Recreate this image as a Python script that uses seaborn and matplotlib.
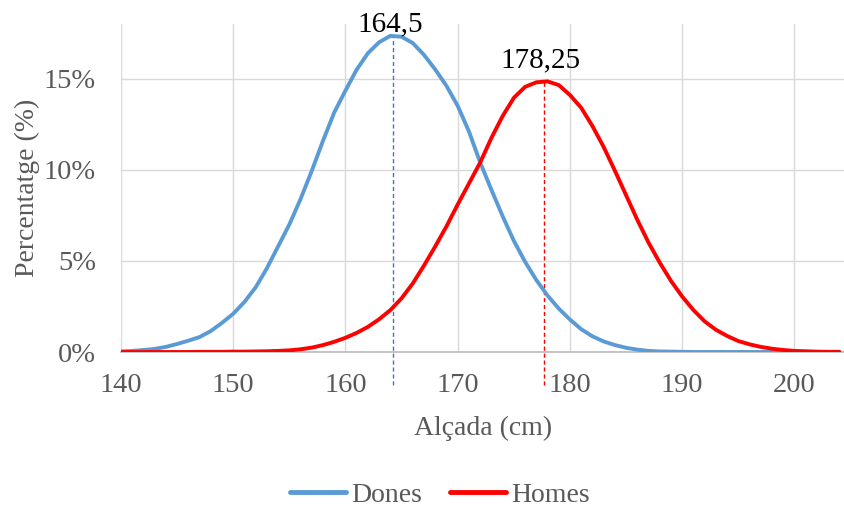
import numpy as np
import pandas as pd
import matplotlib
matplotlib.use("Agg")
import matplotlib.pyplot as plt
import seaborn as sns
from matplotlib.ticker import PercentFormatter, MultipleLocator

# ---- data (in %) ----
heights = list(range(140, 205))
dones = [0.03, 0.06, 0.11, 0.17, 0.28, 0.44, 0.62, 0.82, 1.15, 1.6,
         2.1, 2.75, 3.55, 4.6, 5.8, 7.0, 8.4, 9.95, 11.6, 13.15,
         14.35, 15.5, 16.4, 17.0, 17.35, 17.3, 16.95, 16.3, 15.5, 14.6,
         13.5, 12.1, 10.4, 8.9, 7.45, 6.1, 4.95, 3.95, 3.1, 2.38,
         1.78, 1.25, 0.86, 0.58, 0.38, 0.23, 0.13, 0.06, 0.03, 0.02,
         0.01, 0.0, 0.0, 0.0, 0.0, 0.0, 0.0, 0.0, 0.0, 0.0,
         0.0, 0.0, 0.0, 0.0, 0.0]
homes = [0.0, 0.0, 0.0, 0.0, 0.0, 0.0, 0.0, 0.01, 0.01, 0.01,
         0.02, 0.02, 0.03, 0.04, 0.06, 0.09, 0.15, 0.24, 0.38, 0.56,
         0.78, 1.05, 1.38, 1.8, 2.3, 2.95, 3.77, 4.75, 5.8, 6.9,
         8.1, 9.25, 10.4, 11.75, 12.95, 13.95, 14.55, 14.8, 14.85, 14.65,
         14.1, 13.4, 12.4, 11.25, 9.95, 8.6, 7.25, 6.0, 4.9, 3.9,
         3.04, 2.3, 1.68, 1.22, 0.88, 0.6, 0.42, 0.28, 0.18, 0.11,
         0.06, 0.04, 0.02, 0.01, 0.01]
series_names = ["Dones", "Homes"]
peak_x_pos = [164.25, 177.7]       # dashed marker positions as drawn
peak_y = [17.4, 14.85]
peak_labels = ["164,5", "178,25"]
label_x = [163.95, 177.4]
label_y = [17.58, 15.6]
colors = ["#5B9BD5", "#FF0000"]
dash_colors = ["#4472C4", "#FF0000"]

df = pd.DataFrame({
    "Alçada": heights * 2,
    "Percentatge": dones + homes,
    "Sèrie": [series_names[0]] * len(heights) + [series_names[1]] * len(heights),
})

sns.set_theme(style="white")
plt.rcParams["font.family"] = ["Liberation Serif", "DejaVu Serif"]

fig = plt.figure(figsize=(8.45, 5.08), dpi=100)
ax = fig.add_axes([121 / 845, 1 - 352 / 508, 1 - 121 / 845, (352 - 24) / 508])

sns.lineplot(data=df, x="Alçada", y="Percentatge", hue="Sèrie",
             palette=dict(zip(series_names, colors)), linewidth=2.8, ax=ax,
             legend=True, zorder=3)

ax.set_xlim(140, 204.5)
ax.set_ylim(0, 18)
ax.xaxis.set_major_locator(MultipleLocator(10))
ax.yaxis.set_major_locator(MultipleLocator(5))
ax.yaxis.set_major_formatter(PercentFormatter(100, decimals=0))

ax.grid(True, color="#d9d9d9", linewidth=1.0, zorder=0)
ax.set_axisbelow(True)
for s in ["top", "right", "left"]:
    ax.spines[s].set_visible(False)
ax.spines["bottom"].set_color("#bfbfbf")
ax.spines["bottom"].set_linewidth(1.3)
ax.tick_params(axis="x", length=0, labelsize=20.5, labelcolor="#595959", pad=15)
ax.tick_params(axis="y", length=0, labelsize=20.5, labelcolor="#595959", pad=18)

ax.set_xlabel("Alçada (cm)", fontsize=20, color="#595959", labelpad=13)
ax.set_ylabel("Percentatge (%)", fontsize=20, color="#595959", labelpad=3)

# dashed peak markers and labels
for xp, yp, c in zip(peak_x_pos, peak_y, dash_colors):
    ax.plot([xp, xp], [-1.8, yp], linestyle=(0, (3, 2)), color=c, linewidth=1.0,
            clip_on=False, zorder=2)
for lx, ly, lab in zip(label_x, label_y, peak_labels):
    ax.text(lx, ly, lab, ha="center", va="baseline", fontsize=21, color="black",
            clip_on=False, zorder=4)

handles, labels = ax.get_legend_handles_labels()
ax.get_legend().remove()
leg = fig.legend(handles, labels, loc="center", bbox_to_anchor=(440 / 845, 1 - 495 / 508),
                 ncol=2, frameon=False, fontsize=20, handlelength=2.0,
                 handletextpad=0.2, columnspacing=1.0)
for t in leg.get_texts():
    t.set_color("#595959")
for h in leg.get_lines():
    h.set_linewidth(3.5)

fig.savefig("out.png", dpi=100)
